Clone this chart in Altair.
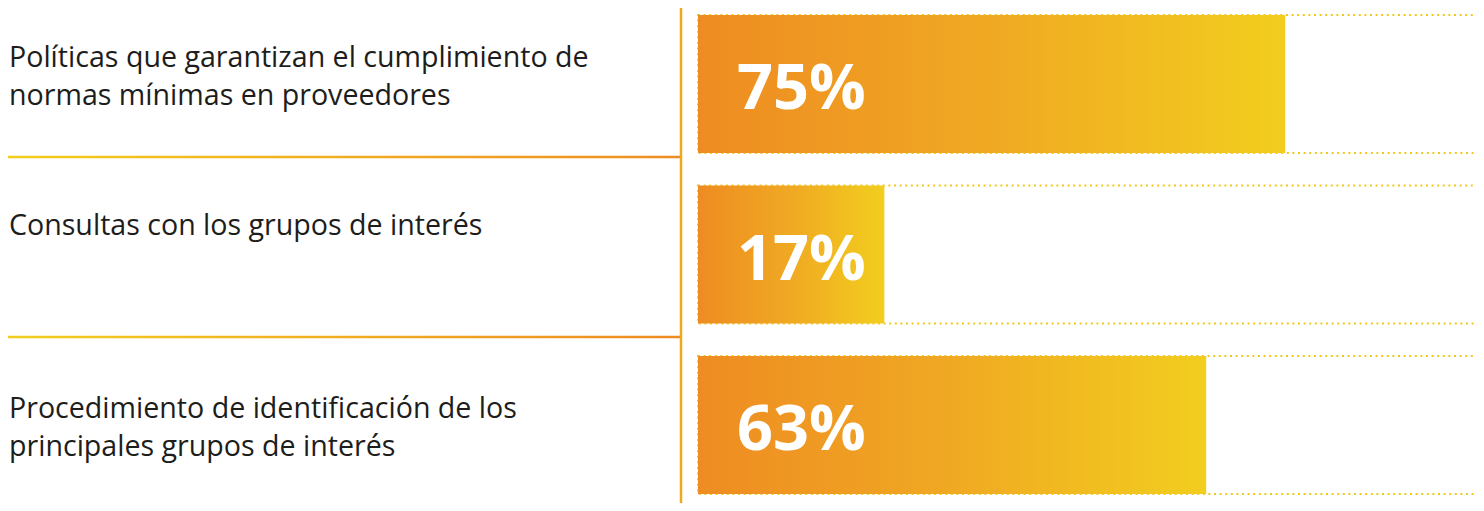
import altair as alt
import pandas as pd

# ---- data ----
categories = [
    "Políticas que garantizan el cumplimiento de normas mínimas en proveedores",
    "Consultas con los grupos de interés",
    "Procedimiento de identificación de los principales grupos de interés",
]
label_lines = [
    ["Políticas que garantizan el cumplimiento de", "normas mínimas en proveedores"],
    ["Consultas con los grupos de interés"],
    ["Procedimiento de identificación de los", "principales grupos de interés"],
]
shown_pct = [75, 17, 63]          # values printed on the bars
bar_length = [75, 23.8, 64.9]      # bar lengths as drawn (share of the full track)

df = pd.DataFrame({
    "idx": list(range(len(categories))),
    "cat": categories,
    "lines": label_lines,
    "len": bar_length,
    "label": [f"{v}%" for v in shown_pct],
    "track_start": [0] * 3,
    "track_end": [101.5] * 3,
})

W, H = 1468, 495
x_scale = alt.Scale(domain=[-88.12, 99.36], nice=False, zero=False)
y_scale = alt.Scale(domain=categories, paddingInner=0.19, paddingOuter=0.0466, align=0.44)

ORANGE = "#EE8C22"
YELLOW = "#F2CE1E"

bar_grad = alt.Gradient(
    gradient="linear",
    stops=[alt.GradientStop(color=ORANGE, offset=0),
           alt.GradientStop(color="#F0A923", offset=0.5),
           alt.GradientStop(color=YELLOW, offset=1)],
    x1=0, x2=1, y1=0, y2=0,
)
sep_grad = alt.Gradient(
    gradient="linear",
    stops=[alt.GradientStop(color=YELLOW, offset=0),
           alt.GradientStop(color=ORANGE, offset=1)],
    x1=0, x2=1, y1=0, y2=0,
)

base = alt.Chart(df)
Y = alt.Y("cat:N", scale=y_scale, axis=None, sort=categories)

track = base.mark_bar(
    fill="white", fillOpacity=0, stroke="#F2C81E", strokeWidth=2, strokeDash=[2, 3.6]
).encode(
    x=alt.X("track_start:Q", scale=x_scale, axis=None),
    x2="track_end:Q",
    y=Y,
)

bars = base.mark_bar(fill=bar_grad, strokeWidth=0).encode(
    x=alt.X("track_start:Q", scale=x_scale, axis=None),
    x2="len:Q",
    y=Y,
)

bar_text = base.mark_text(
    align="left", baseline="alphabetic", dx=39, dy=25,
    font="Open Sans", fontWeight="bold", fontSize=63, color="white",
).encode(
    x=alt.X("track_start:Q", scale=x_scale, axis=None),
    y=Y,
    text="label:N",
)

layers = [track, bars, bar_text]

# left-hand labels (top-anchored in each row)
label_dy = [52, 49.5, 62.5]
for i in range(len(categories)):
    layers.append(
        base.transform_filter(alt.datum.idx == i).mark_text(
            align="left", baseline="alphabetic", dy=label_dy[i],
            font="Open Sans", fontSize=28.6, lineHeight=38, color="#1d1d1b",
        ).encode(
            x=alt.value(1),
            y=alt.Y("cat:N", scale=y_scale, axis=None, sort=categories, bandPosition=0),
            text="lines",
        )
    )

# separators below row 1 and row 2
sep_offsets = [73, 82.5]
for i in range(2):
    layers.append(
        base.transform_filter(alt.datum.idx == i).mark_bar(
            fill=sep_grad, height=2.5, yOffset=sep_offsets[i]
        ).encode(
            x=alt.datum(-88.4, scale=x_scale),
            x2=alt.datum(-2.17),
            y=Y,
        )
    )

# vertical divider
layers.append(
    base.transform_filter(alt.datum.idx == 0).mark_rule(
        color="#F0A81F", strokeWidth=2.5
    ).encode(
        x=alt.datum(-2.17, scale=x_scale),
        y=alt.value(-1),
        y2=alt.value(H),
    )
)

chart = alt.layer(*layers).properties(
    width=W, height=H,
    autosize=alt.AutoSizeParams(type="none"),
    padding=0,
).configure_view(stroke=None)

chart.save("out.html", embed_options={"renderer": "svg", "actions": False})
